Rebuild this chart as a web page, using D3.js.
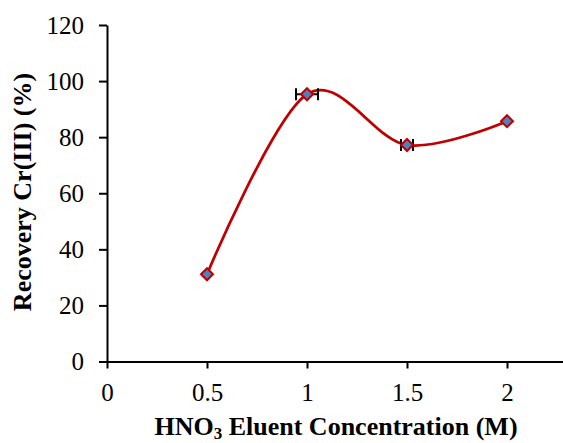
<!DOCTYPE html>
<html>
<head>
<meta charset="utf-8">
<script src="https://cdn.jsdelivr.net/npm/d3@7"></script>
<style>
  body { margin: 0; background: #fff; }
  svg { display: block; }
  text { font-family: "Liberation Serif", "Times New Roman", serif; fill: #000; }
  .tick text { font-size: 25px; }
  .domain, .tick line { stroke: #000; stroke-width: 2px; }
</style>
</head>
<body>
<div id="chart"></div>
<script>
// Recovery data
var conc = [0.5, 1.0, 1.5, 2.0];
var recovery = [31.1, 95.3, 77.2, 85.7];
var concErr = [0, 0.055, 0.03, 0];
var xTicks = [0, 0.5, 1, 1.5, 2];
var yTicks = [0, 20, 40, 60, 80, 100, 120];

var width = 563, height = 443,
	margin = { top: 25, right: 0, bottom: 82, left: 107 };

var svg = d3.select("#chart").append("svg")
	.attr("width", width)
	.attr("height", height);

var x = d3.scaleLinear().domain([0, 2.28]).range([margin.left, width - margin.right]),
	y = d3.scaleLinear().domain([0, 120]).range([height - margin.bottom + 0.5, margin.top]);

// --- AXES --- //
svg.append("g")
	.attr("transform", "translate(0," + y(0) + ")")
	.call(d3.axisBottom(x).tickValues(xTicks).tickSize(7).tickSizeOuter(0).tickPadding(15)
		.tickFormat(function(d) { return d; }))
	.attr("font-family", null).attr("font-size", null);

svg.append("g")
	.attr("transform", "translate(" + x(0) + ",0)")
	.call(d3.axisLeft(y).tickValues(yTicks).tickSize(8).tickSizeOuter(0).tickPadding(15))
	.attr("font-family", null).attr("font-size", null);

// --- CURVE --- //
var pts = conc.map(function(c, i) { return [c, recovery[i]]; });
svg.append("path")
	.datum(pts)
	.attr("fill", "none")
	.attr("stroke", "#C00000")
	.attr("stroke-width", 2.75)
	.attr("d", d3.line()
		.x(function(d) { return x(d[0]); })
		.y(function(d) { return y(d[1]); })
		.curve(d3.curveCatmullRom.alpha(0)));

// --- ERROR BARS --- //
var errData = conc.map(function(c, i) { return { c: c, r: recovery[i], e: concErr[i] }; })
	.filter(function(d) { return d.e > 0; });
var err = svg.selectAll(".err").data(errData)
	.enter().append("g").attr("class", "err")
	.attr("stroke", "#000").attr("stroke-width", 2);
err.append("line")
	.attr("x1", function(d) { return x(d.c - d.e); })
	.attr("x2", function(d) { return x(d.c + d.e); })
	.attr("y1", function(d) { return y(d.r); })
	.attr("y2", function(d) { return y(d.r); });
err.selectAll(".cap").data(function(d) { return [[d.c - d.e, d.r], [d.c + d.e, d.r]]; })
	.enter().append("line")
	.attr("x1", function(d) { return x(d[0]); })
	.attr("x2", function(d) { return x(d[0]); })
	.attr("y1", function(d) { return y(d[1]) - 6; })
	.attr("y2", function(d) { return y(d[1]) + 6; });

// --- MARKERS --- //
svg.selectAll(".pt").data(pts).enter().append("path")
	.attr("class", "pt")
	.attr("d", d3.symbol().type(d3.symbolDiamond2).size(92))
	.attr("transform", function(d) { return "translate(" + x(d[0]) + "," + y(d[1]) + ")"; })
	.attr("fill", "#4F81BD")
	.attr("stroke", "#C00000")
	.attr("stroke-width", 2);

// --- TITLES --- //
var xTitle = svg.append("text")
	.attr("x", 336)
	.attr("y", 435)
	.attr("text-anchor", "middle")
	.attr("font-size", "26px")
	.attr("font-weight", "bold");
xTitle.append("tspan").text("HNO");
xTitle.append("tspan").attr("font-size", "17px").attr("dy", 4).text("3");
xTitle.append("tspan").attr("dy", -4).text(" Eluent Concentration (M)");

svg.append("text")
	.attr("transform", "translate(31,192) rotate(-90)")
	.attr("text-anchor", "middle")
	.attr("font-size", "26px")
	.attr("font-weight", "bold")
	.text("Recovery Cr(III) (%)");
</script>
</body>
</html>
